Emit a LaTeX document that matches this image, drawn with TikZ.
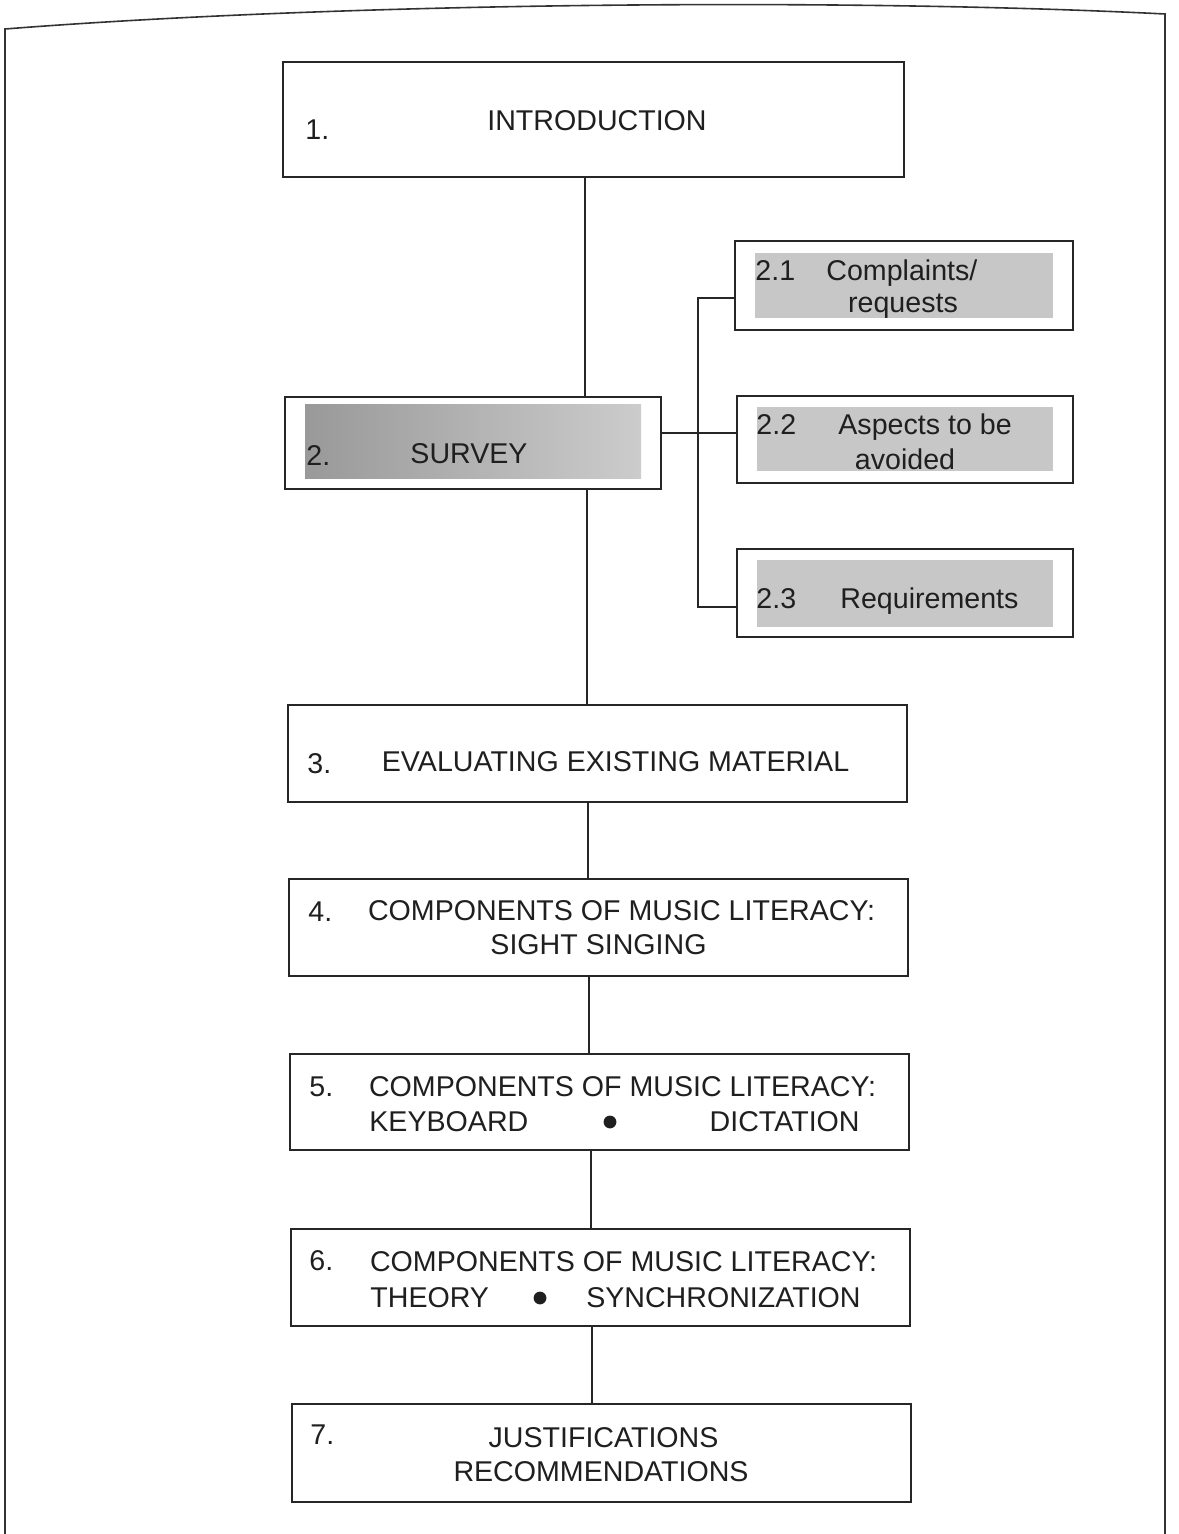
\documentclass[tikz,border=0pt]{standalone}
\usepackage{fontspec}
\setmainfont{Liberation Sans}
\begin{document}
\begin{tikzpicture}[x=0.5pt,y=-0.5pt,
  box/.style={draw=black!85,line width=1.2pt,fill=white,inner sep=0pt},
  shadebox/.style={draw=none,fill=black!22,inner sep=0pt},
  survshade/.style={draw=none,left color=black!40,right color=black!20,inner sep=0pt},
  conn/.style={draw=black!85,line width=0.8pt},
  lbl/.style={inner sep=0pt,anchor=base,font=\fontsize{14.3}{17}\selectfont,text=black!88},
  num/.style={lbl,anchor=base west},
  frame/.style={draw=black!80,line width=0.8pt}
]
\useasboundingbox (0,0) rectangle (1178,1534);
% page frame
\draw[frame] (5,1534) -- (5,29) .. controls (350,2) and (850,-2) .. (1165,14) -- (1165,1534);

% boxes
\node[box,minimum width=310.5pt,minimum height=57.5pt] (b1) at (593.5,119.5) {};
\node[box,minimum width=188pt,minimum height=46pt] (b2) at (473,443) {};
\node[survshade,minimum width=168pt,minimum height=36.5pt] (s2) at (473,441.5) {};
\node[box,minimum width=169pt,minimum height=44.5pt] (b21) at (904,285.5) {};
\node[shadebox,minimum width=149pt,minimum height=32.5pt] (s21) at (904,285.5) {};
\node[box,minimum width=168pt,minimum height=43.5pt] (b22) at (905,439.5) {};
\node[shadebox,minimum width=148pt,minimum height=32pt] (s22) at (905,439) {};
\node[box,minimum width=168pt,minimum height=44pt] (b23) at (905,593) {};
\node[shadebox,minimum width=148pt,minimum height=33.5pt] (s23) at (905,593.5) {};
\node[box,minimum width=309.5pt,minimum height=48.5pt] (b3) at (597.5,753.5) {};
\node[box,minimum width=309.5pt,minimum height=48.5pt] (b4) at (598.5,927.5) {};
\node[box,minimum width=309.5pt,minimum height=48pt] (b5) at (599.5,1102) {};
\node[box,minimum width=309.5pt,minimum height=48.5pt] (b6) at (600.5,1277.5) {};
\node[box,minimum width=309.5pt,minimum height=49pt] (b7) at (601.5,1453) {};

% connector coordinates
\coordinate (t1) at (585,0);
\coordinate (t2) at (587,0);
\coordinate (t3) at (588,0);
\coordinate (t4) at (589,0);
\coordinate (t5) at (591,0);
\coordinate (t6) at (592,0);
\coordinate (br) at (698,433);
\coordinate (brtop) at (698,298);
\coordinate (brbot) at (698,607);

\draw[conn] (b1.south -| t1) -- (b2.north -| t1);
\draw[conn] (b2.south -| t2) -- (b3.north -| t2);
\draw[conn] (b3.south -| t3) -- (b4.north -| t3);
\draw[conn] (b4.south -| t4) -- (b5.north -| t4);
\draw[conn] (b5.south -| t5) -- (b6.north -| t5);
\draw[conn] (b6.south -| t6) -- (b7.north -| t6);
\draw[conn] (b2.east |- br) -- (b22.west |- br);
\draw[conn] (b21.west |- brtop) -- (brtop) -- (brbot) -- (b23.west |- brbot);

% texts
\node[num] (n1) at (305,140) {1.};
\node[lbl] (l1) at (597,131) {INTRODUCTION};
\node[num] (n2) at (306,466) {2.};
\node[lbl] (l2) at (469,463) {SURVEY};
\node[num] (n21) at (755,281) {2.1};
\node[lbl,anchor=base west] (l21a) at (826,281) {Complaints/};
\node[lbl] (l21b) at (903,313) {requests};
\node[num] (n22) at (756,435) {2.2};
\node[lbl,anchor=base west] (l22a) at (838,435) {Aspects to be};
\node[lbl] (l22b) at (905,469) {avoided};
\node[num] (n23) at (756,608) {2.3};
\node[lbl,anchor=base west] (l23) at (840,608) {Requirements};
\node[num] (n3) at (307,773) {3.};
\node[lbl] (l3) at (615.5,771) {EVALUATING EXISTING MATERIAL};
\node[num] (n4) at (308,921) {4.};
\node[lbl] (l4a) at (621.5,920) {COMPONENTS OF MUSIC LITERACY:};
\node[lbl] (l4b) at (598.5,954) {SIGHT SINGING};
\node[num] (n5) at (309,1096) {5.};
\node[lbl] (l5a) at (622.5,1096) {COMPONENTS OF MUSIC LITERACY:};
\node[lbl,anchor=base west] (l5b) at (369,1131) {KEYBOARD};
\fill[black!88] (610,1122) circle (3.2pt) coordinate (d5);
\node[lbl,anchor=base east] (l5c) at (860,1131) {DICTATION};
\node[num] (n6) at (309,1270) {6.};
\node[lbl] (l6a) at (623.5,1271) {COMPONENTS OF MUSIC LITERACY:};
\node[lbl,anchor=base west] (l6b) at (370,1307) {THEORY};
\fill[black!88] (540,1298) circle (3.2pt) coordinate (d6);
\node[lbl,anchor=base east] (l6c) at (861,1307) {SYNCHRONIZATION};
\node[num] (n7) at (310,1444) {7.};
\node[lbl] (l7a) at (603.5,1447) {JUSTIFICATIONS};
\node[lbl] (l7b) at (601,1481) {RECOMMENDATIONS};
\end{tikzpicture}
\end{document}
